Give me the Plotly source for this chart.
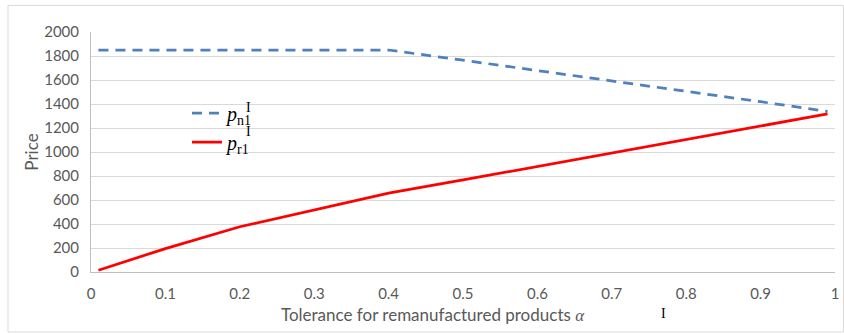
import plotly.graph_objects as go

alpha = [0.01, 0.1, 0.2, 0.3, 0.4, 0.5, 0.6, 0.7, 0.8, 0.9, 0.99]
p_n1 = [1850, 1850, 1850, 1850, 1850, 1765, 1680, 1593, 1506, 1419, 1338]
p_r1 = [15, 195, 377, 520, 658, 767, 880, 991, 1104, 1216, 1318]

x_ticks = [0, 0.1, 0.2, 0.3, 0.4, 0.5, 0.6, 0.7, 0.8, 0.9, 1]
x_tick_labels = ["0", "0.1", "0.2", "0.3", "0.4", "0.5", "0.6", "0.7", "0.8", "0.9", "1"]
y_ticks = [0, 200, 400, 600, 800, 1000, 1200, 1400, 1600, 1800, 2000]

GRAY_TXT = "#595959"
SANS = "Lato, 'Open Sans', sans-serif"
SERIF = "'Liberation Serif', 'DejaVu Serif', serif"

fig = go.Figure()
fig.add_trace(go.Scatter(
    x=alpha, y=p_n1, mode="lines", name="<i>p</i><sub>n1</sub>",
    legendgroup="a",
    line=dict(color="#4F81BD", width=2.75, dash="10px,7px"),
))
fig.add_trace(go.Scatter(
    x=alpha, y=p_r1, mode="lines", name="<i>p</i><sub>r1</sub>",
    legendgroup="b",
    line=dict(color="#FF0000", width=2.75),
))

x_title = ("Tolerance for remanufactured products "
           "<span style='font-family:Liberation Serif'><i>α</i></span>"
           + "&nbsp;" * 14)


def mark_I(px, py):
    return dict(text="I", xref="paper", yref="paper",
                x=(px - 91) / 744, y=(272.3 - py) / 240,
                xanchor="center", yanchor="middle",
                showarrow=False, font=dict(family=SERIF, size=14, color="black"))


fig.update_layout(
    width=844, height=335,
    margin=dict(l=91, r=9, t=32, b=63, autoexpand=False),
    paper_bgcolor="white", plot_bgcolor="white",
    showlegend=True,
    legend=dict(
        x=0.129, y=0.743, xanchor="left", yanchor="top",
        bgcolor="rgba(255,255,255,0)",
        font=dict(family=SERIF, size=20, color="black"),
        tracegroupgap=0,
    ),
    xaxis=dict(
        range=[0, 1], tickvals=x_ticks, ticktext=x_tick_labels,
        showgrid=False, zeroline=False,
        showline=True, linecolor="#BFBFBF", linewidth=1,
        ticks="outside", ticklen=8, tickcolor="rgba(0,0,0,0)",
        tickfont=dict(family=SANS, size=15, color=GRAY_TXT),
        title=dict(
            text=x_title,
            font=dict(family=SANS, size=17, color=GRAY_TXT),
            standoff=8,
        ),
    ),
    yaxis=dict(
        range=[0, 2000], tickvals=y_ticks,
        showgrid=True, gridcolor="#D9D9D9", gridwidth=1,
        zeroline=False,
        showline=True, linecolor="#BFBFBF", linewidth=1,
        ticks="outside", ticklen=8, tickcolor="rgba(0,0,0,0)",
        tickfont=dict(family=SANS, size=15, color=GRAY_TXT),
        title=dict(
            text="Price",
            font=dict(family=SANS, size=17, color=GRAY_TXT),
            standoff=1,
        ),
    ),
    shapes=[dict(
        type="rect", xref="paper", yref="paper",
        x0=(8 - 91) / 744, x1=(843.5 - 91) / 744,
        y0=(272.3 - 332.3) / 240, y1=(272.3 - 5.7) / 240,
        line=dict(color="#D9D9D9", width=1), fillcolor="rgba(0,0,0,0)",
        layer="below",
    )],
    annotations=[
        mark_I(248, 107.5),
        mark_I(248, 131.5),
        mark_I(663, 313.5),
    ],
)

fig.write_html(
    "out.html",
    config={"displayModeBar": False},
    post_script="document.body.style.margin='0';document.body.style.overflow='hidden';",
)
